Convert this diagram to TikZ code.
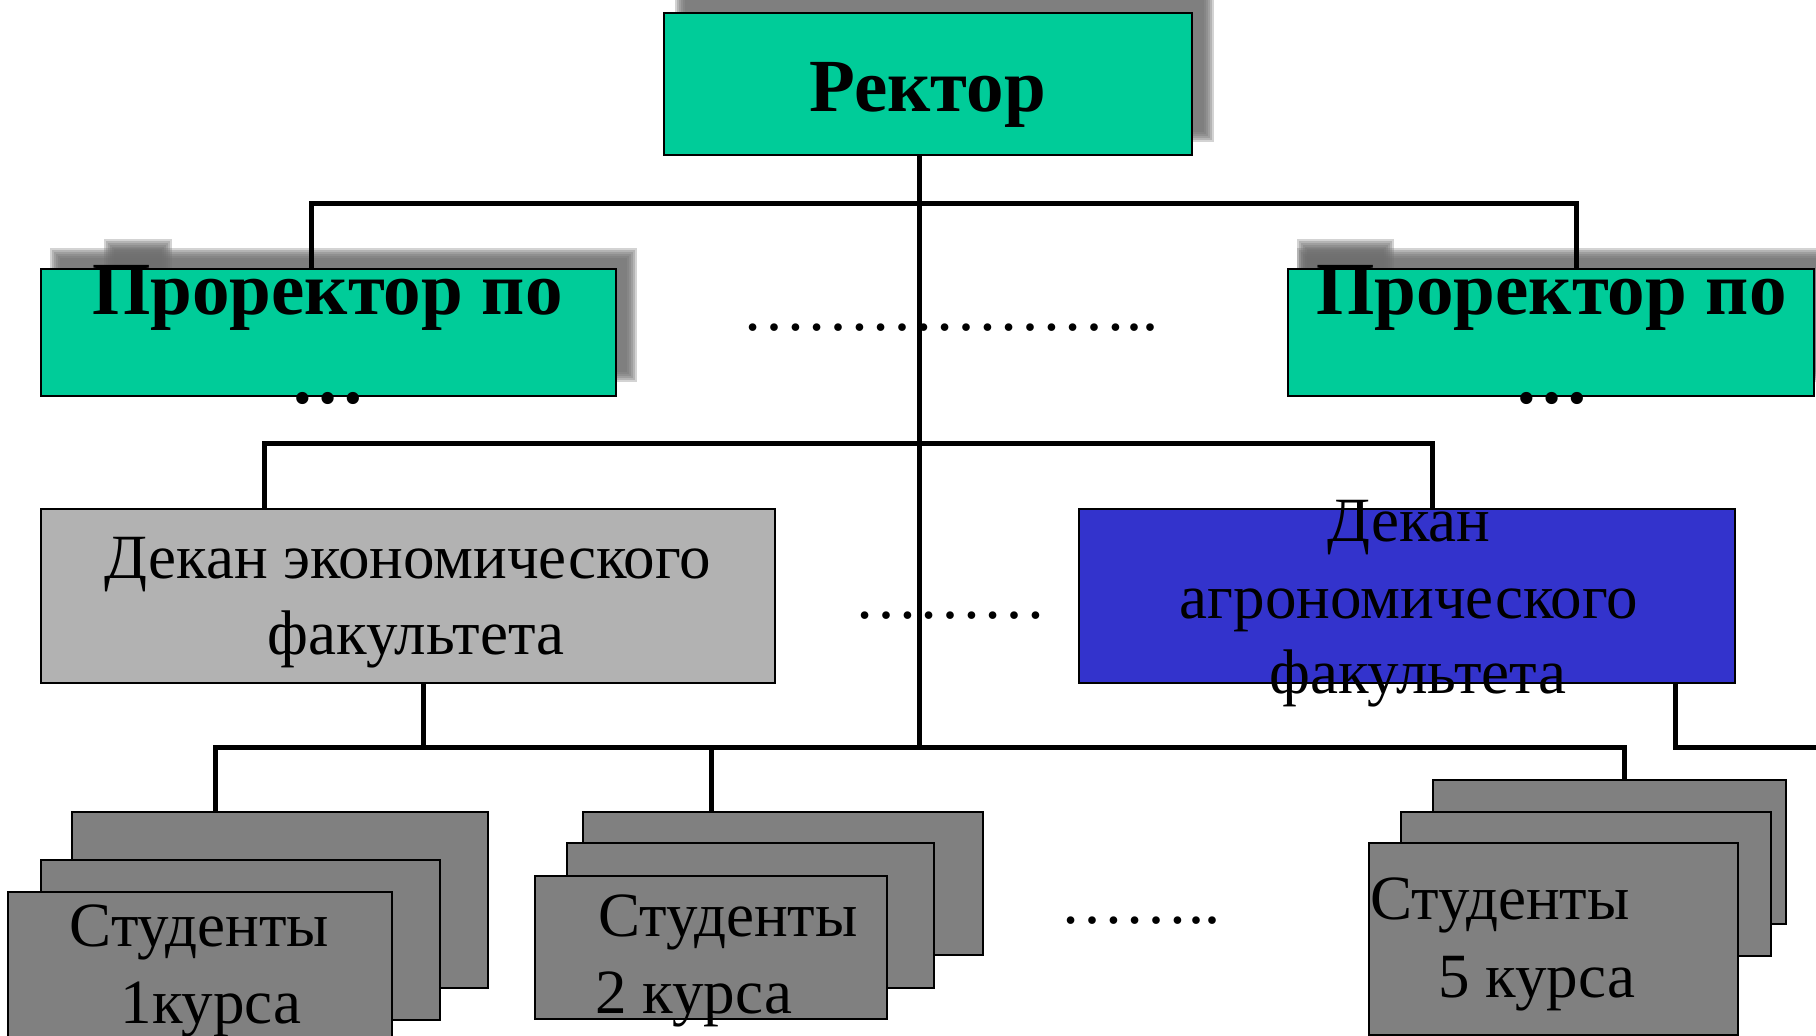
\documentclass[tikz,border=0pt]{standalone}
\usepackage{fontspec}
\setmainfont{Liberation Serif}
\definecolor{tealc}{HTML}{00CC99}
\definecolor{lgrayc}{HTML}{B2B2B2}
\definecolor{bluec}{HTML}{3333CC}
\definecolor{dgrayc}{HTML}{808080}
\definecolor{shadc}{HTML}{6F6F6F}
\tikzset{
  conn/.style={line width=5pt},
  boxbase/.style={draw=black, line width=2pt, inner sep=0pt, outer sep=0pt},
  tealbox/.style={boxbase, fill=tealc},
  econbox/.style={boxbase, fill=lgrayc},
  agrobox/.style={boxbase, fill=bluec},
  studbox/.style={boxbase, fill=dgrayc},
  lbl/.style={inner sep=0pt, outer sep=0pt, anchor=base, font=\fontsize{63}{75}\selectfont},
  lbll/.style={lbl, anchor=base west},
  blbl/.style={inner sep=0pt, outer sep=0pt, anchor=base, font=\fontsize{75}{90}\selectfont\bfseries},
  dotlbl/.style={inner sep=0pt, outer sep=0pt, anchor=base west, font=\fontsize{64}{75}\selectfont},
  shadowlayer/.style={fill=shadc, fill opacity=0.3},
}
\newcommand\myshadowblur[4]{%
  \foreach \d in {-4,-2,0,2,4,6} {%
    \fill[shadowlayer] ({#1+\d},{#2+\d}) rectangle ({#3-\d},{#4-\d});
  }%
}
\begin{document}
\begin{tikzpicture}[x=1pt,y=-1pt]
\useasboundingbox (0,0) rectangle (1816,1036);
\clip (0,0) rectangle (1816,1036);
\fill[white] (0,0) rectangle (1816,1036);

% shadows
\myshadowblur{678.8}{-8}{1209.5}{138}
\myshadowblur{54.2}{251.7}{633.4}{378.3}
\myshadowblur{108}{243}{168}{275}
\myshadowblur{1300.5}{251.7}{1840}{378.3}
\myshadowblur{1300.5}{243}{1390}{275}

% boxes
\node[tealbox, minimum width=528.2pt, minimum height=142.5pt] (rector) at (927.7,84) {};
\node[tealbox, minimum width=575.7pt, minimum height=127.4pt] (prol) at (328.35,332.4) {};
\node[tealbox, minimum width=525.8pt, minimum height=127.4pt] (pror) at (1550.8,332.4) {};
\node[econbox, minimum width=734.3pt, minimum height=174.9pt] (decon) at (407.65,595.95) {};
\node[agrobox, minimum width=655.6pt, minimum height=174.9pt] (dagro) at (1407.2,595.95) {};

\node[studbox, minimum width=416.3pt, minimum height=176.6pt] (s1b) at (279.65,900) {};
\node[studbox, minimum width=399.5pt, minimum height=160pt] (s1m) at (240.25,940) {};
\node[studbox, minimum width=383.5pt, minimum height=158.3pt] (s1f) at (199.75,970.85) {};

\node[studbox, minimum width=400pt, minimum height=143.3pt] (s2b) at (782.8,883.35) {};
\node[studbox, minimum width=367.5pt, minimum height=145pt] (s2m) at (750.65,915.8) {};
\node[studbox, minimum width=351.6pt, minimum height=143.6pt] (s2f) at (710.8,947.5) {};

\node[studbox, minimum width=352.8pt, minimum height=144pt] (s5b) at (1609.6,852) {};
\node[studbox, minimum width=370.1pt, minimum height=144.3pt] (s5m) at (1585.85,883.85) {};
\node[studbox, minimum width=369pt, minimum height=191.7pt] (s5f) at (1553.5,939.15) {};

% dotted fillers
\node[dotlbl] (dots1) at (742,330) {………………..};
\node[dotlbl] (dots2) at (854,618) {………};
\node[dotlbl] (dots3) at (1060,923) {……..};

% connectors
\coordinate (jt) at (919.6,203.8);
\coordinate (jb) at (919.6,747);
\draw[conn] (rector.south -| jt) -- (jb);
\coordinate (hl) at (311.6,203.8);
\coordinate (hr) at (1576.3,203.8);
\draw[conn] (prol.north -| hl) -- (hl) -- (hr) -- (pror.north -| hr);
\coordinate (dl) at (264,443.6);
\coordinate (dr) at (1432.7,443.6);
\draw[conn] (decon.north -| dl) -- (dl) -- (dr) -- (dagro.north -| dr);
\coordinate (sl) at (215.4,747);
\coordinate (sr) at (1624,747);
\coordinate (s2j) at (711.1,747);
\coordinate (ej) at (423.9,747);
\draw[conn] (s1b.north -| sl) -- (sl) -- (sr) -- (s5b.north -| sr);
\draw[conn] (s2j) -- (s2b.north -| s2j);
\draw[conn] (decon.south -| ej) -- (ej);
\coordinate (aj) at (1675,747);
\coordinate (aend) at (1830,747);
\draw[conn] (dagro.south -| aj) -- (aj) -- (aend);

% texts
\node[blbl] (trector) at (927.5,111) {Ректор};
\node[blbl] (tprol1) at (327.5,314) {Проректор по};
\node[blbl] (tprol2) at (328,403) {…};
\node[blbl] (tpror1) at (1551.5,314) {Проректор по};
\node[blbl] (tpror2) at (1551.8,403) {…};

\node[lbl] (tecon1) at (408,578) {Декан экономического};
\node[lbl] (tecon2) at (416,654) {факультета};

\node[lbl] (tagro1) at (1409,541.7) {Декан};
\node[lbl] (tagro2) at (1409,618) {агрономического};
\node[lbl] (tagro3) at (1417.6,693) {факультета};

\node[lbl] (ts11) at (199.4,946.7) {Студенты};
\node[lbl] (ts12) at (211,1023) {1курса};
\node[lbll] (ts21) at (598.7,936.7) {Студенты};
\node[lbll] (ts22) at (595.5,1013) {2 курса};
\node[lbll] (ts51) at (1370.6,919.3) {Студенты};
\node[lbll] (ts52) at (1438.4,997.3) {5 курса};
\end{tikzpicture}
\end{document}
